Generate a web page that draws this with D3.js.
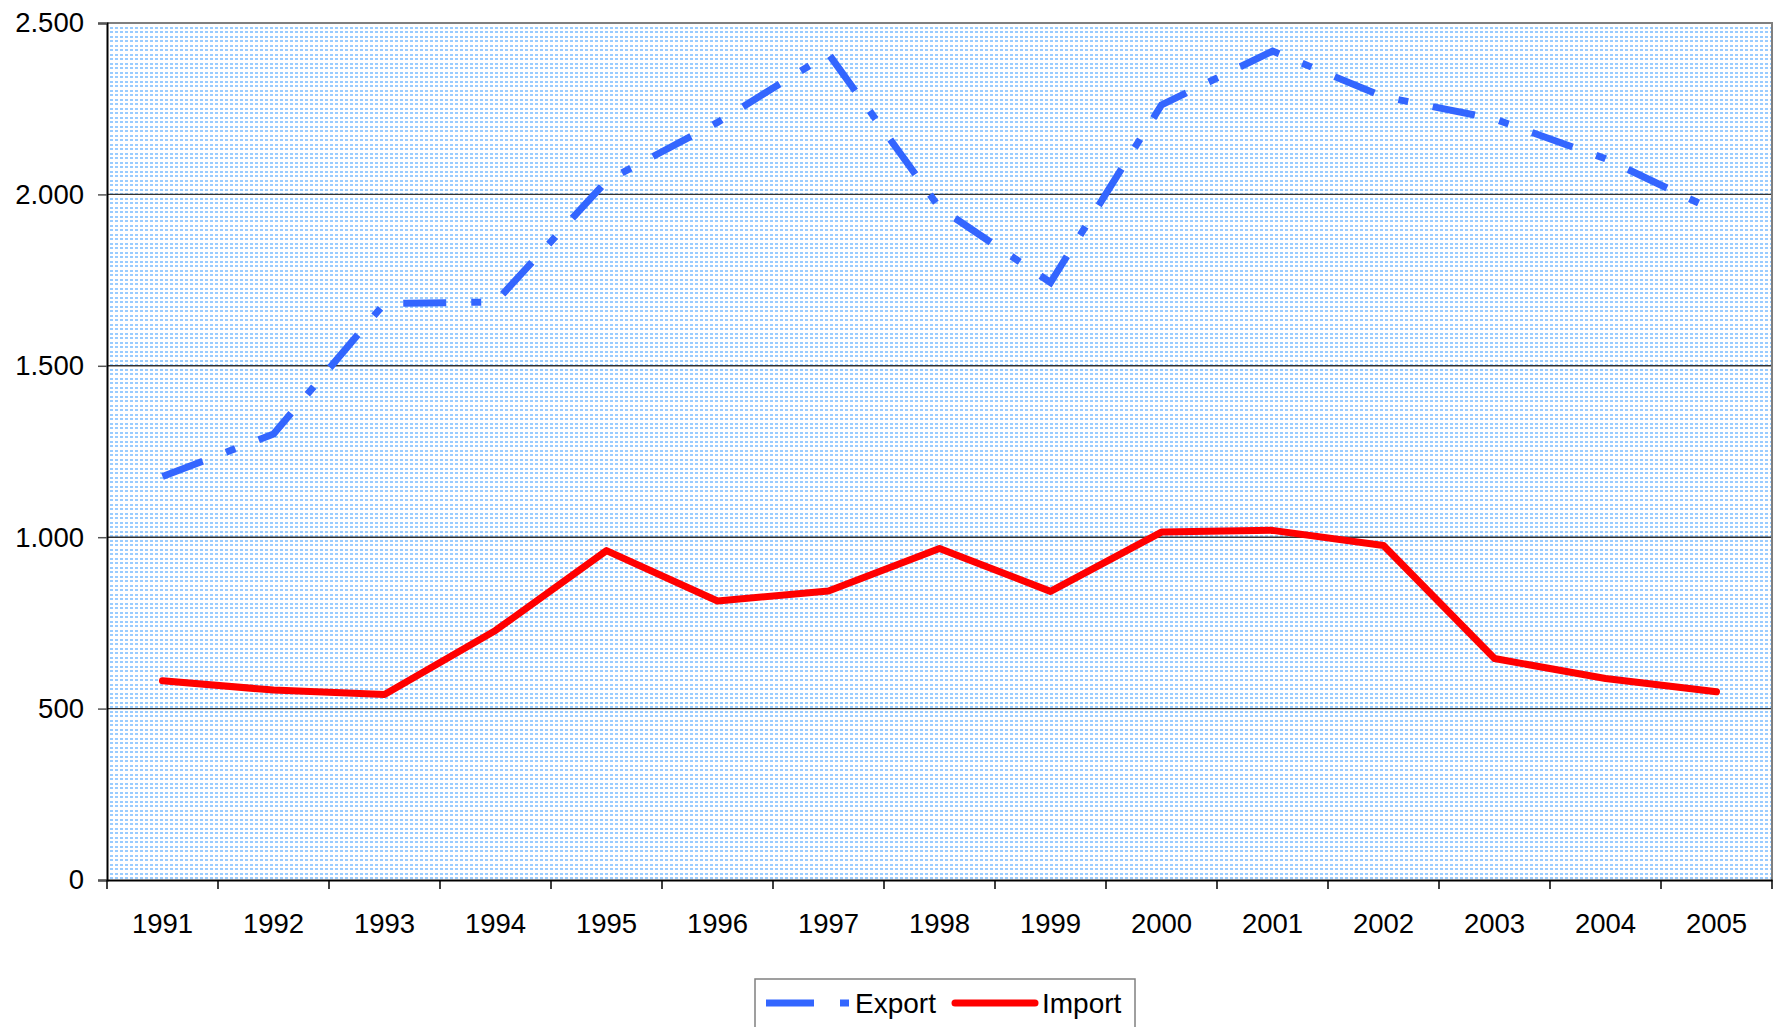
<!DOCTYPE html>
<html>
<head>
<meta charset="utf-8">
<script src="https://cdn.jsdelivr.net/npm/d3@7"></script>
<style>
  html, body { margin: 0; padding: 0; background: #fff; }
  text { font-family: "Liberation Sans", Arial, sans-serif; fill: #000; }
</style>
</head>
<body>
<svg id="chart"></svg>
<script>
const years = ["1991", "1992", "1993", "1994", "1995", "1996", "1997", "1998",
  "1999", "2000", "2001", "2002", "2003", "2004", "2005"];
const exportValues = [1177, 1301, 1682, 1686, 2039, 2210, 2410, 1961, 1743, 2261,
  2418, 2285, 2220, 2104, 1950];
const importValues = [581, 554, 541, 728, 961, 814, 843, 967, 842, 1015,
  1020, 976, 646, 588, 549];
const yTicks = [0, 500, 1000, 1500, 2000, 2500];
const seriesNames = ["Export", "Import"];

const width = 1777, height = 1027;
const margin = { top: 23, right: 5, bottom: 147, left: 107 };

const svg = d3.select("#chart")
  .attr("width", width)
  .attr("height", height);

const x = d3.scaleBand()
  .domain(years)
  .range([margin.left, width - margin.right])
  .padding(0);

const y = d3.scaleLinear()
  .domain([0, 2500])
  .range([height - margin.bottom, margin.top]);

const fmt = v => d3.format(",")(v).replace(/,/g, ".");

// dotted background like the excel fill
const defs = svg.append("defs");
const pat = defs.append("pattern")
  .attr("id", "dots")
  .attr("patternUnits", "userSpaceOnUse")
  .attr("width", 10)
  .attr("height", 9);
pat.append("rect").attr("width", 10).attr("height", 9).attr("fill", "#fff");
pat.selectAll("rect.d")
  .data([[0, 0], [5, 0], [0, 4], [5, 4]])
  .join("rect")
  .attr("class", "d")
  .attr("x", d => d[0]).attr("y", d => d[1])
  .attr("width", 3).attr("height", 2)
  .attr("fill", "#99ccff");

const x0 = margin.left, x1 = width - margin.right;
const yTop = margin.top, yBot = height - margin.bottom;

svg.append("rect")
  .attr("x", x0).attr("y", yTop)
  .attr("width", x1 - x0).attr("height", yBot - yTop)
  .attr("fill", "url(#dots)");

// gridlines
svg.append("g")
  .selectAll("line")
  .data(yTicks.filter(d => d > 0 && d < 2500))
  .join("line")
  .attr("x1", x0).attr("x2", x1)
  .attr("y1", d => y(d)).attr("y2", d => y(d))
  .attr("stroke", "#333")
  .attr("stroke-width", 1.4);

// top and right frame
svg.append("path")
  .attr("d", `M${x0},${yTop}H${x1}V${yBot}`)
  .attr("fill", "none")
  .attr("stroke", "#808080")
  .attr("stroke-width", 2);

// y axis
const yAxis = svg.append("g")
  .attr("transform", `translate(${x0},0)`)
  .call(d3.axisLeft(y).tickValues(yTicks).tickFormat(fmt).tickSize(9).tickPadding(14));
yAxis.select(".domain").attr("stroke", "#000").attr("stroke-width", 2);
yAxis.selectAll(".tick line").attr("stroke", "#555").attr("stroke-width", 1.5);
yAxis.selectAll("text")
  .style("font-size", "27.5px")
  .style("font-family", "Liberation Sans, Arial, sans-serif")
  .attr("fill", "#000");

// x axis
const xAxis = svg.append("g")
  .attr("transform", `translate(0,${yBot})`)
  .call(d3.axisBottom(x).tickSize(0).tickPadding(33));
xAxis.select(".domain").attr("stroke", "#000").attr("stroke-width", 2);
xAxis.selectAll("text")
  .style("font-size", "27.5px")
  .style("font-family", "Liberation Sans, Arial, sans-serif")
  .attr("fill", "#000");

// tick marks between categories
const bounds = years.map(d => x(d)).concat([x(years[years.length - 1]) + x.bandwidth()]);
xAxis.append("g")
  .selectAll("line")
  .data(bounds)
  .join("line")
  .attr("x1", d => d).attr("x2", d => d)
  .attr("y1", 0).attr("y2", 9)
  .attr("stroke", "#000")
  .attr("stroke-width", 1.5);

const cx = d => x(d) + x.bandwidth() / 2;

const line = d3.line()
  .x((d, i) => cx(years[i]))
  .y(d => y(d));

svg.append("path")
  .datum(importValues)
  .attr("d", line)
  .attr("fill", "none")
  .attr("stroke", "#ff0000")
  .attr("stroke-width", 7)
  .attr("stroke-linejoin", "round")
  .attr("stroke-linecap", "round");

svg.append("path")
  .datum(exportValues)
  .attr("d", line)
  .attr("fill", "none")
  .attr("stroke", "#3366ff")
  .attr("stroke-width", 7)
  .attr("stroke-dasharray", "43,25,10,25");

// legend
const legend = svg.append("g");
legend.append("rect")
  .attr("x", 755).attr("y", 979)
  .attr("width", 380).attr("height", 60)
  .attr("fill", "#fff")
  .attr("stroke", "#808080")
  .attr("stroke-width", 1.5);

legend.append("line")
  .attr("x1", 766).attr("x2", 849)
  .attr("y1", 1003).attr("y2", 1003)
  .attr("stroke", "#3366ff")
  .attr("stroke-width", 7)
  .attr("stroke-dasharray", "48,26,9,30");
legend.append("text")
  .attr("x", 855).attr("y", 1013)
  .style("font-size", "28px")
  .text(seriesNames[0]);

legend.append("line")
  .attr("x1", 955).attr("x2", 1035)
  .attr("y1", 1003).attr("y2", 1003)
  .attr("stroke", "#ff0000")
  .attr("stroke-width", 7)
  .attr("stroke-linecap", "round");
legend.append("text")
  .attr("x", 1042).attr("y", 1013)
  .style("font-size", "28px")
  .text(seriesNames[1]);
</script>
</body>
</html>
